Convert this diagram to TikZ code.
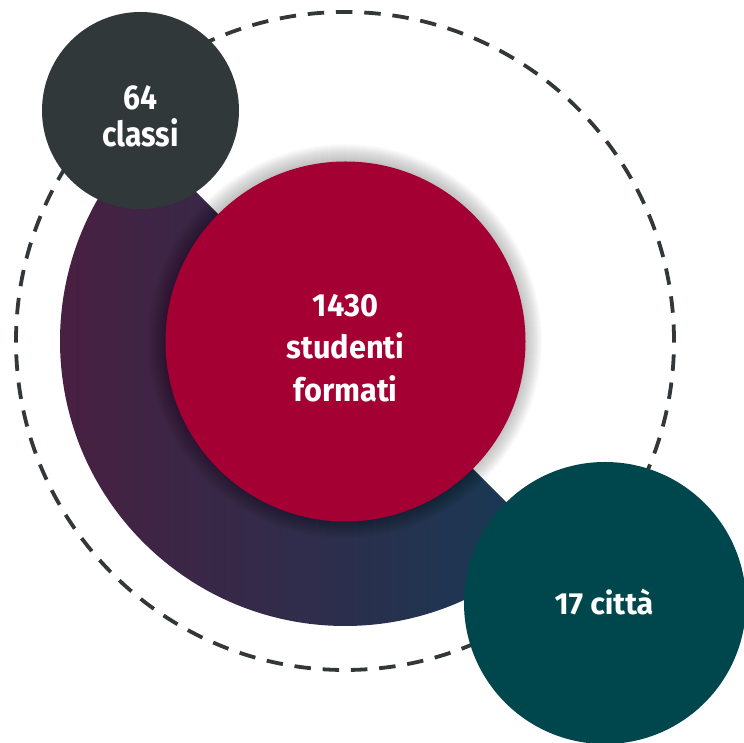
\documentclass[tikz,border=0pt]{standalone}
\usepackage{fontspec}
\newfontfamily\labfont{Fira Sans}
\newfontfamily\labfontgrey{Fira Sans}[FakeStretch=0.87]
\newfontfamily\labfontred{Fira Sans}[FakeStretch=0.96]
\definecolor{dashcol}{RGB}{50,56,57}
\definecolor{greycirc}{RGB}{49,56,57}
\definecolor{redcirc}{RGB}{165,0,52}
\definecolor{tealcirc}{RGB}{0,71,77}
\definecolor{gradleft}{RGB}{75,30,64}
\definecolor{gradright}{RGB}{22,58,85}
\tikzset{
  labtext/.style={text=white, align=center},
  bubble/.style={circle, inner sep=0pt, minimum size=#1},
}
\begin{document}
\begin{tikzpicture}[x=1pt,y=1pt]
\useasboundingbox (0,0) rectangle (744,743);
% dashed orbit
\draw[dashcol, line width=3.8pt, dash pattern=on 16.5pt off 11.8pt] (345,402) circle[radius=329];
% gradient half disk
\coordinate (c) at (345,402);
\shade[left color=gradleft, right color=gradright]
  (c) -- ++(135:285) arc[start angle=135, end angle=315, radius=285] -- cycle;
% soft shadow of the central circle
\foreach \i in {1,...,18}{
  \fill[black, opacity=0.016] (c) circle[radius=179+\i];
}
% central circle
\node[bubble=360pt, fill=redcirc] (main) at (345.5,401.5) {};
\node[labtext, font=\labfontred\bfseries\fontsize{32}{42.5}\selectfont] (maintxt) at (345.5,395) {1430\\studenti\\formati};
% classes circle
\node[bubble=197pt, fill=greycirc] (classi) at (140.5,632.5) {};
\node[labtext, font=\labfontgrey\bfseries\fontsize{34.5}{37.3}\selectfont] (classitxt) at (140.5,627) {64\\classi};
% cities circle
\node[bubble=282pt, fill=tealcirc] (citta) at (605,140) {};
\node[labtext, font=\labfont\bfseries\fontsize{30.5}{36}\selectfont] (cittatxt) at (604,141) {17 città};
\end{tikzpicture}
\end{document}
